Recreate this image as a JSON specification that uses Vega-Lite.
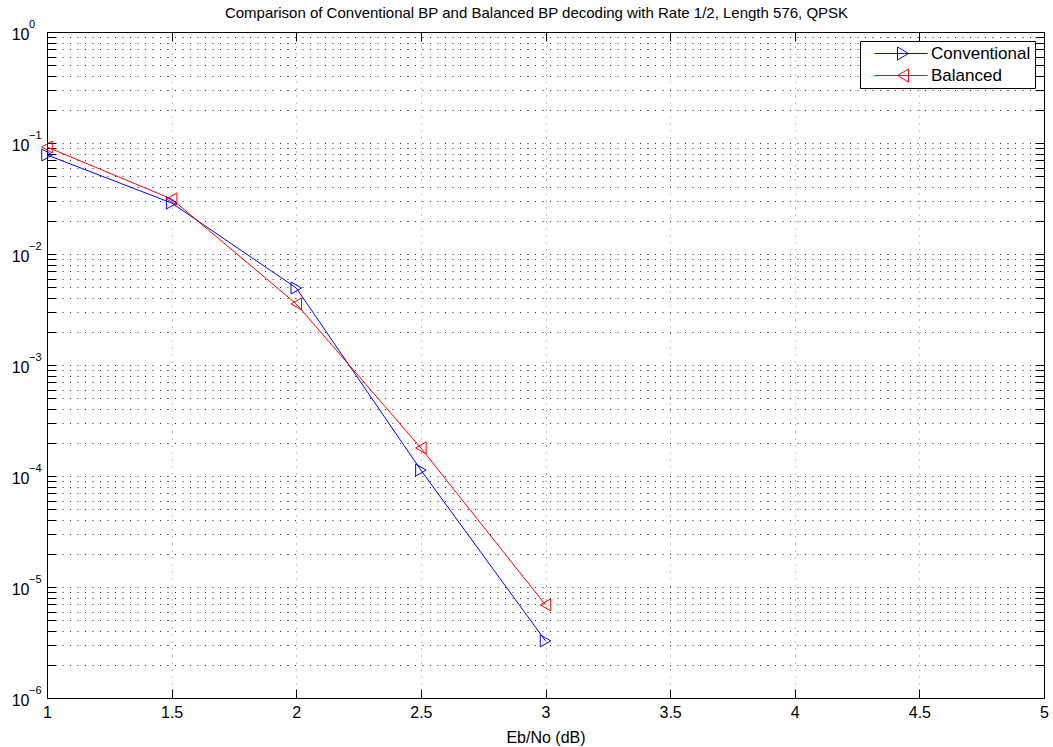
{
  "$schema": "https://vega.github.io/schema/vega-lite/v6.json",
  "autosize": {"type": "none"},
  "padding": {"left": 47, "top": 32, "right": 9, "bottom": 49},
  "width": 997,
  "height": 666,
  "background": "white",
  "config": {
    "font": "Liberation Sans",
    "view": {"stroke": "black", "strokeWidth": 1},
    "axis": {"domainColor": "black", "tickColor": "black", "labelColor": "black", "titleColor": "black", "labelFont": "Liberation Sans", "titleFont": "Liberation Sans"}
  },
  "title": {"text": "Comparison of Conventional BP and Balanced BP decoding with Rate 1/2, Length 576, QPSK", "fontSize": 15, "fontWeight": "normal", "font": "Liberation Sans", "color": "black", "anchor": "middle", "offset": 4, "dx": -9, "dy": 6},
  "datasets": {
    "ber": [
      {"ebno": 1.0, "ber": 0.078, "series": "Conventional"},
      {"ebno": 1.5, "ber": 0.0288, "series": "Conventional"},
      {"ebno": 2.0, "ber": 0.00494, "series": "Conventional"},
      {"ebno": 2.5, "ber": 0.000113, "series": "Conventional"},
      {"ebno": 3.0, "ber": 0.00000327, "series": "Conventional"},
      {"ebno": 1.0, "ber": 0.092, "series": "Balanced"},
      {"ebno": 1.5, "ber": 0.0313, "series": "Balanced"},
      {"ebno": 2.0, "ber": 0.00355, "series": "Balanced"},
      {"ebno": 2.5, "ber": 0.000179, "series": "Balanced"},
      {"ebno": 3.0, "ber": 0.0000069, "series": "Balanced"}
    ],
    "exponents": [
      {"ebno": 1, "ber": 1, "exp": "0"},
      {"ebno": 1, "ber": 0.1, "exp": "−1"},
      {"ebno": 1, "ber": 0.01, "exp": "−2"},
      {"ebno": 1, "ber": 0.001, "exp": "−3"},
      {"ebno": 1, "ber": 0.0001, "exp": "−4"},
      {"ebno": 1, "ber": 0.00001, "exp": "−5"},
      {"ebno": 1, "ber": 0.000001, "exp": "−6"}
    ]
  },
  "data": {"name": "ber"},
  "layer": [
    {
      "mark": {"type": "line", "strokeWidth": 1, "clip": true},
      "encoding": {
        "x": {"field": "ebno", "type": "quantitative",
          "scale": {"domain": [1, 5], "nice": false, "zero": false},
          "axis": {"orient": "bottom", "title": "Eb/No (dB)", "titleFontSize": 16, "titleFontWeight": "normal", "titlePadding": 9,
            "values": [1, 1.5, 2, 2.5, 3, 3.5, 4, 4.5, 5], "format": "~g", "labelFontSize": 16, "labelPadding": 15,
            "tickSize": -9, "grid": true, "gridColor": "#888888", "gridDash": [1, 6], "gridWidth": 1, "labelFlush": false}},
        "y": {"field": "ber", "type": "quantitative",
          "scale": {"type": "log", "domain": [0.000001, 1], "nice": false},
          "axis": {"orient": "left", "title": null,
            "values": [0.000001,0.000002,0.000003,0.000004,0.000005,0.000006,0.000007,0.000008,0.000009,
                       0.00001,0.00002,0.00003,0.00004,0.00005,0.00006,0.00007,0.00008,0.00009,
                       0.0001,0.0002,0.0003,0.0004,0.0005,0.0006,0.0007,0.0008,0.0009,
                       0.001,0.002,0.003,0.004,0.005,0.006,0.007,0.008,0.009,
                       0.01,0.02,0.03,0.04,0.05,0.06,0.07,0.08,0.09,
                       0.1,0.2,0.3,0.4,0.5,0.6,0.7,0.8,0.9,1],
            "labelExpr": "abs(log(datum.value)/LN10 - round(log(datum.value)/LN10)) < 0.0001 ? '10' : ''",
            "labelFontSize": 16, "labelPadding": 27, "labelOffset": 2, "labelFlush": false, "labelOverlap": false, "labelBaseline": "middle",
            "tickSize": -9,
            "encode": {"ticks": {"update": {"x2": {"signal": "abs(log(datum.value)/LN10 - round(log(datum.value)/LN10)) < 0.0001 ? 9 : 5"}}}},
            "grid": true, "gridColor": "#222222", "gridDash": [1, 6.5], "gridWidth": 1}},
        "color": {"field": "series", "type": "nominal",
          "scale": {"domain": ["Conventional", "Balanced"], "range": ["#0000ff", "#ff0000"]},
          "legend": {"title": null, "orient": "top-right", "offset": 9, "padding": 4, "fillColor": "white", "strokeColor": "black",
            "labelFontSize": 17, "labelFont": "Liberation Sans", "labelColor": "black", "labelOffset": 50, "rowPadding": 4, "symbolSize": 100,
            "encode": {"symbols": {"update": {
              "shape": {"signal": "datum.value == 'Conventional' ? 'M0.4,0H11M5,-1.3L7.2,0L5,1.3Z' : 'M0.4,0H11M7.2,-1.3L5,0L7.2,1.3Z'"},
              "size": {"value": 100}, "fill": {"value": "transparent"}, "strokeWidth": {"value": 1}}}}}}
      }
    },
    {
      "transform": [{"filter": "datum.series == 'Conventional'"}],
      "mark": {"type": "point", "filled": false, "size": 100, "strokeWidth": 1, "opacity": 1, "shape": "M-1.05,-1.2L1.05,0L-1.05,1.2Z"},
      "encoding": {
        "x": {"field": "ebno", "type": "quantitative",
          "axis": {"orient": "top", "title": null, "labels": false, "grid": false, "tickSize": -9,
            "values": [1, 1.5, 2, 2.5, 3, 3.5, 4, 4.5, 5]}},
        "y": {"field": "ber", "type": "quantitative",
          "axis": {"orient": "right", "title": null, "labels": false, "grid": false, "tickSize": -9,
            "values": [0.000001,0.000002,0.000003,0.000004,0.000005,0.000006,0.000007,0.000008,0.000009,
                       0.00001,0.00002,0.00003,0.00004,0.00005,0.00006,0.00007,0.00008,0.00009,
                       0.0001,0.0002,0.0003,0.0004,0.0005,0.0006,0.0007,0.0008,0.0009,
                       0.001,0.002,0.003,0.004,0.005,0.006,0.007,0.008,0.009,
                       0.01,0.02,0.03,0.04,0.05,0.06,0.07,0.08,0.09,
                       0.1,0.2,0.3,0.4,0.5,0.6,0.7,0.8,0.9,1],
            "encode": {"ticks": {"update": {"x2": {"signal": "abs(log(datum.value)/LN10 - round(log(datum.value)/LN10)) < 0.0001 ? -9 : -5"}}}}}},
        "color": {"field": "series", "type": "nominal", "legend": null}
      }
    },
    {
      "transform": [{"filter": "datum.series == 'Balanced'"}],
      "mark": {"type": "point", "filled": false, "size": 100, "strokeWidth": 1, "opacity": 1, "shape": "M1.05,-1.2L-1.05,0L1.05,1.2Z"},
      "encoding": {
        "x": {"field": "ebno", "type": "quantitative", "axis": null},
        "y": {"field": "ber", "type": "quantitative", "axis": null},
        "color": {"field": "series", "type": "nominal", "legend": null}
      }
    },
    {
      "data": {"name": "exponents"},
      "mark": {"type": "text", "fontSize": 11, "font": "Liberation Sans", "color": "black", "align": "left", "baseline": "middle", "dx": -18, "dy": -7, "clip": false},
      "encoding": {
        "x": {"field": "ebno", "type": "quantitative", "axis": null},
        "y": {"field": "ber", "type": "quantitative", "axis": null},
        "text": {"field": "exp"}
      }
    }
  ],
  "resolve": {"axis": {"x": "independent", "y": "independent"}}
}
